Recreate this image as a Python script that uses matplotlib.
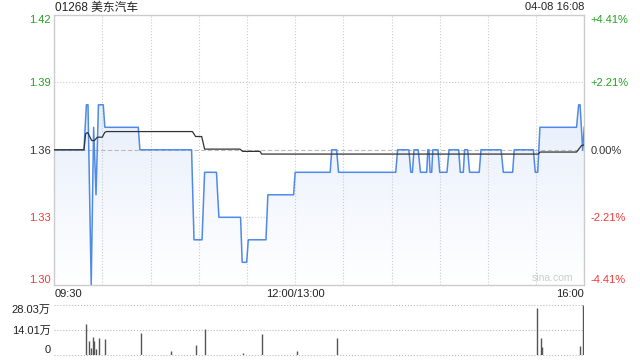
import matplotlib.pyplot as plt
import numpy as np
from matplotlib.ticker import MultipleLocator
from matplotlib.colors import LinearSegmentedColormap
from matplotlib.patches import PathPatch

plt.rcParams['font.family'] = ['Liberation Sans', 'Noto Sans CJK SC', 'DejaVu Sans']

# 分钟序号 (09:30 = 0, 12:00/13:00 = 150, 16:00 = 330) 与价格
prev_close = 1.36
price_t = [0, 18.5, 20, 21, 23, 24.5, 26, 27.5, 30.5, 31.5, 52.3, 53.3, 85.5, 87,
           92, 93.6, 101, 102.5, 116, 117, 119.8, 120.8, 131.8, 133, 149, 150,
           171.8, 172.8, 175.8, 177, 212.6, 213.8, 220.8, 222, 223, 224, 226.6,
           228, 231.9, 232.6, 233.3, 234, 235, 235.7, 238.9, 240, 244.5, 245.8,
           251.8, 252.8, 254.7, 255.5, 257.4, 258.6, 264.6, 265.7, 278.2, 279.6,
           285.4, 286.4, 298.3, 299.5, 301, 302.4, 325.2, 326.5, 327.4, 329, 330]
price_v = [1.36, 1.36, 1.38, 1.38, 1.30, 1.37, 1.34, 1.38, 1.38, 1.37, 1.37, 1.36,
           1.36, 1.32, 1.32, 1.35, 1.35, 1.33, 1.33, 1.31, 1.31, 1.32, 1.32, 1.34,
           1.34, 1.35, 1.35, 1.36, 1.36, 1.35, 1.35, 1.36, 1.36, 1.35, 1.35, 1.36,
           1.36, 1.35, 1.35, 1.36, 1.36, 1.35, 1.35, 1.36, 1.36, 1.35, 1.35, 1.36,
           1.36, 1.35, 1.35, 1.36, 1.36, 1.35, 1.35, 1.36, 1.36, 1.35, 1.35, 1.36,
           1.36, 1.35, 1.35, 1.37, 1.37, 1.38, 1.38, 1.36, 1.37]

avg_t = [0, 18.5, 19.5, 20.8, 23.3, 25, 26.8, 29.9, 31.4, 32.5, 86, 88, 91.8, 93.6,
         115.6, 117.3, 128.1, 129.1, 301.4, 302.5, 325.2, 328.3, 330]
avg_v = [1.36, 1.36, 1.3671, 1.3677, 1.3641, 1.3641, 1.3656, 1.3656, 1.3677, 1.3681,
         1.3681, 1.3659, 1.3659, 1.3603, 1.3603, 1.3593, 1.3593, 1.3581, 1.3581,
         1.359, 1.359, 1.3619, 1.3622]

# 成交量 (万)
vol_t = [19.9, 21.8, 22.9, 23.9, 24.9, 26, 28, 31.8, 53.8, 72.9, 88, 93.6, 117.7,
         129.5, 151.3, 176.2, 300.4, 303.3, 303.9, 327.1, 329, 330]
vol_v = [17.5, 7.9, 4.1, 10.3, 7.9, 3.4, 9.6, 9.2, 12.2, 2.3, 5.6, 14.7, 1.2,
         11.7, 2.3, 9.6, 26.5, 9.6, 4.7, 5.0, 28.03, 4.5]

y_ticks = [1.30, 1.33, 1.36, 1.39, 1.42]
y_labels = ['1.30', '1.33', '1.36', '1.39', '1.42']
pct_labels = ['-4.41%', '-2.21%', '0.00%', '+2.21%', '+4.41%']
time_ticks = [0, 150, 330]
time_labels = ['09:30', '12:00/13:00', '16:00']
vol_ticks = [0, 14.01, 28.03]
vol_labels = ['0', '14.01万', '28.03万']

green = '#22a322'
red = '#f03a3a'
label_colors = [red, red, '#333333', green, green]
blue = '#4f8ae8'

fig = plt.figure(figsize=(6.4, 3.6), dpi=100)
ax = fig.add_axes([0.0848, 0.2089, 0.8281, 0.75])
axv = fig.add_axes([0.0848, 0.0139, 0.8281, 0.138])

# 渐变填充
cmap = LinearSegmentedColormap.from_list('fill', ['#ffffff', '#dce7fa'])
poly = ax.fill_between(price_t, price_v, 1.30, color='none', lw=0)
patch = PathPatch(poly.get_paths()[0], transform=ax.transData, facecolor='none', edgecolor='none')
ax.add_patch(patch)
grad = np.linspace(0, 1, 256).reshape(-1, 1)
im = ax.imshow(grad, extent=[0, 330, 1.30, 1.42], aspect='auto', origin='lower',
               cmap=cmap, zorder=1)
im.set_clip_path(patch)

ax.plot(price_t, price_v, color=blue, lw=1.1, zorder=3)
ax.plot(avg_t, avg_v, color='#333333', lw=0.9, zorder=4)
ax.axhline(prev_close, color='#bbbbbb', lw=0.8, ls=(0, (4, 2)), zorder=2)

ax.set_xlim(0, 330)
ax.set_ylim(1.30, 1.42)
for sp in ax.spines.values():
    sp.set_color('#cccccc')
    sp.set_linewidth(1)

ax.set_yticks(y_ticks)
ax.set_yticklabels(y_labels)
ax.tick_params(axis='y', length=0, pad=2.5, labelsize=8)
for lab, c in zip(ax.get_yticklabels(), label_colors):
    lab.set_color(c)
ax.get_yticklabels()[0].set_va('bottom')
ax.get_yticklabels()[-1].set_va('top')

ax.set_xticks(time_ticks)
ax.set_xticklabels(time_labels)
ax.xaxis.set_minor_locator(MultipleLocator(30))
ax.tick_params(axis='x', which='both', length=0, pad=3, labelsize=8, labelcolor='#222222')
ax.get_xticklabels()[0].set_ha('left')
ax.get_xticklabels()[-1].set_ha('right')
ax.grid(which='both', axis='x', ls=':', color='#cccccc', lw=0.8)
for yv in [1.33, 1.39]:
    ax.axhline(yv, ls=':', color='#cccccc', lw=0.8, zorder=0)

# 右侧涨跌幅
axr = ax.twinx()
axr.set_ylim(1.30, 1.42)
axr.set_yticks(y_ticks)
axr.set_yticklabels(pct_labels)
axr.tick_params(axis='y', length=0, pad=4.5, labelsize=8)
for lab, c in zip(axr.get_yticklabels(), label_colors):
    lab.set_color(c)
axr.get_yticklabels()[0].set_va('bottom')
axr.get_yticklabels()[-1].set_va('top')
for sp in axr.spines.values():
    sp.set_visible(False)

ax.text(0.979, 0.006, 'sina.com', transform=ax.transAxes, ha='right', va='bottom',
        fontsize=7.5, color='#cccccc', zorder=5)

fig.text(55 / 640, 1 - 7.5 / 360, '01268 美东汽车', ha='left', va='center',
         fontsize=8.5, color='#222222')
fig.text(584 / 640, 1 - 7.5 / 360, '04-08 16:08', ha='right', va='center',
         fontsize=8, color='#222222')

# 成交量
axv.vlines(vol_t, 0, vol_v, color='#555555', lw=1)
axv.set_xlim(0, 330)
axv.set_ylim(0, 28.03)
for yv in vol_ticks:
    axv.axhline(yv, ls=':', color='#bbbbbb', lw=0.8, clip_on=False, zorder=0)
for sp in axv.spines.values():
    sp.set_visible(False)
axv.set_xticks([])
axv.set_yticks(vol_ticks)
axv.set_yticklabels(vol_labels)
axv.tick_params(axis='y', length=0, pad=2.5, labelsize=8, labelcolor='#222222')
axv.get_yticklabels()[0].set_va('bottom')
axv.get_yticklabels()[-1].set_va('top')

plt.savefig('out.png', dpi=100)
